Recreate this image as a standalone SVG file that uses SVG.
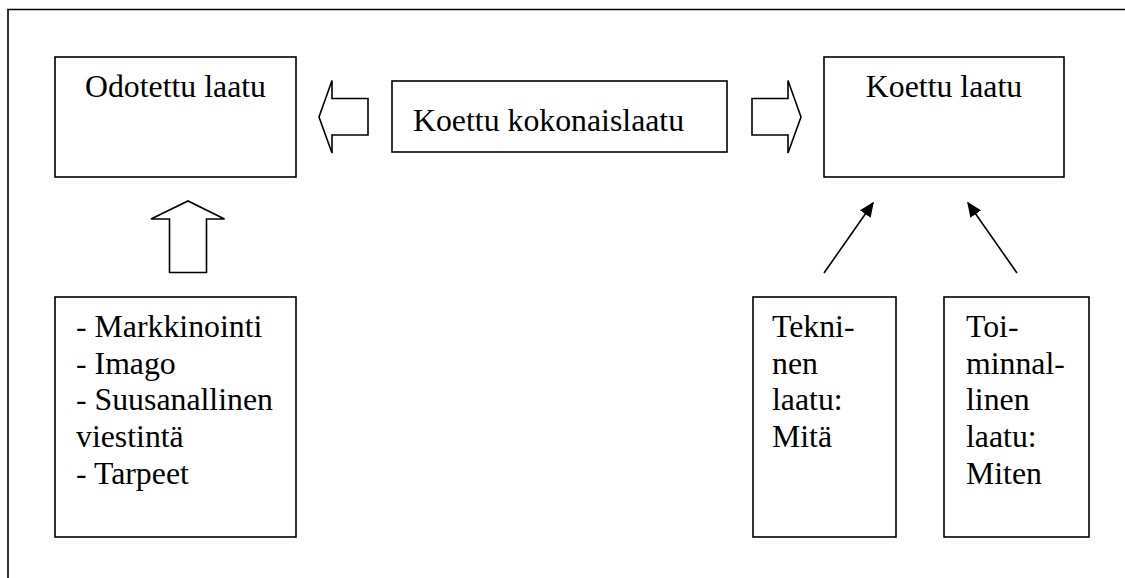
<svg xmlns="http://www.w3.org/2000/svg" width="1125" height="578" viewBox="0 0 1125 578">
  <style>
    .box { fill: #ffffff; stroke: #000000; stroke-width: 1.6; }
    .block { fill: #ffffff; stroke: #000000; stroke-width: 1.6; stroke-linejoin: miter; }
    .frame { fill: none; stroke: #000000; stroke-width: 1.6; }
    text { font-family: 'Liberation Serif', 'Times New Roman', serif; font-size: 31.8px; fill: #000000; }
    .mid { text-anchor: middle; }
    .link { stroke: #000000; stroke-width: 1.6; fill: none; marker-end: url(#head); }
  </style>
  <defs>
    <marker id="head" viewBox="0 0 10 10" refX="9" refY="5" markerWidth="15" markerHeight="13" markerUnits="userSpaceOnUse" orient="auto" preserveAspectRatio="none">
      <path d="M0,0 L10,5 L0,10 Z" fill="#000000"/>
    </marker>
  </defs>

  <rect width="1125" height="578" fill="#ffffff"/>

  <!-- outer frame: only the left and top edges fall inside the page -->
  <path class="frame" d="M8,590 L8,9.5 L1140,9.5"/>

  <g id="odotettu-laatu">
    <rect class="box" x="55" y="57" width="241" height="120"/>
    <text class="mid" x="175.5" y="97">Odotettu laatu</text>
  </g>

  <g id="koettu-kokonaislaatu">
    <rect class="box" x="392" y="81" width="335" height="71"/>
    <text x="413" y="131">Koettu kokonaislaatu</text>
  </g>

  <g id="koettu-laatu">
    <rect class="box" x="824" y="57" width="240" height="120"/>
    <text class="mid" x="944" y="97">Koettu laatu</text>
  </g>

  <g id="tekijat">
    <rect class="box" x="55" y="297" width="241" height="240"/>
    <text x="76" y="337">- Markkinointi</text>
    <text x="76" y="373.7">- Imago</text>
    <text x="76" y="410.4">- Suusanallinen</text>
    <text x="76" y="447.1">viestintä</text>
    <text x="76" y="483.8">- Tarpeet</text>
  </g>

  <g id="tekninen-laatu">
    <rect class="box" x="753" y="297" width="143" height="240"/>
    <text x="772" y="337">Tekni-</text>
    <text x="772" y="373.7">nen</text>
    <text x="772" y="410.4">laatu:</text>
    <text x="772" y="447.1">Mitä</text>
  </g>

  <g id="toiminnallinen-laatu">
    <rect class="box" x="944" y="297" width="145" height="240"/>
    <text x="966" y="337">Toi-</text>
    <text x="966" y="373.7">minnal-</text>
    <text x="966" y="410.4">linen</text>
    <text x="966" y="447.1">laatu:</text>
    <text x="966" y="483.8">Miten</text>
  </g>

  <g id="connectors">
    <!-- block arrows -->
    <path class="block" d="M368,98.5 L332,98.5 L332,80.5 L319,117 L332,153 L332,135 L368,135 Z"/>
    <path class="block" d="M752,98.5 L788,98.5 L788,80.5 L801,117 L788,153 L788,135 L752,135 Z"/>
    <path class="block" d="M169.5,272.5 L169.5,219 L151,219 L188,201 L224.5,219 L206.5,219 L206.5,272.5 Z"/>
    <!-- line arrows -->
    <line class="link" x1="824" y1="273" x2="873" y2="203"/>
    <line class="link" x1="1017" y1="273" x2="968" y2="203"/>
  </g>
</svg>
